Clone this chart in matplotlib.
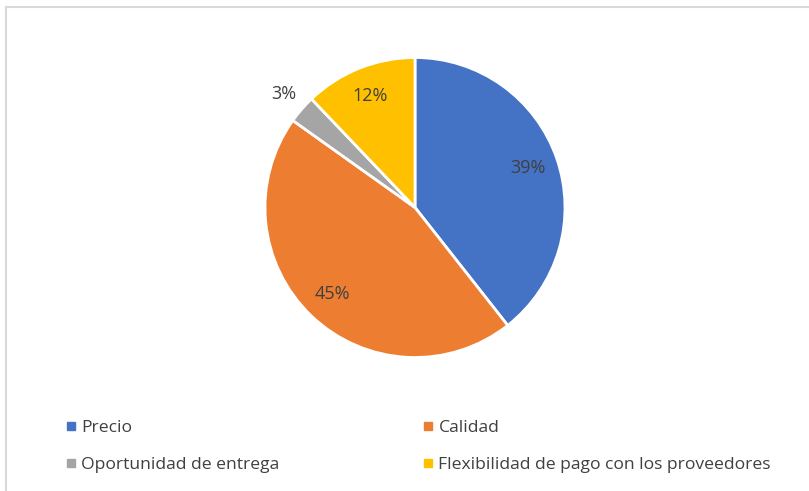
import matplotlib
matplotlib.use("Agg")
import matplotlib.pyplot as plt
from matplotlib.lines import Line2D
import numpy as np

# Data
categories = ["Precio", "Calidad", "Oportunidad de entrega",
              "Flexibilidad de pago con los proveedores"]
counts = [13, 15, 1, 4]
colors = ["#4472C4", "#ED7D31", "#A5A5A5", "#FFC000"]

plt.rcParams['font.family'] = ['Open Sans', 'DejaVu Sans']

W, H = 809, 491
fig = plt.figure(figsize=(W / 100, H / 100), dpi=100)

# pie axes: centre (415, 207.5) px, radius 150 px
cx, cy, r = 415, 207.5, 150
ax = fig.add_axes([(cx - r) / W, (H - cy - r) / H, 2 * r / W, 2 * r / H])

wedges, texts, autotexts = ax.pie(
    counts, colors=colors, startangle=90, counterclock=False,
    autopct=lambda p: f"{p:.0f}%", pctdistance=0.8,
    wedgeprops=dict(edgecolor="white", linewidth=2),
    textprops=dict(color="#404040", fontsize=13))
ax.set_xlim(-1, 1)
ax.set_ylim(-1, 1)
ax.set_aspect("equal")

# small slice label sits outside the pie
for w, t in zip(wedges, autotexts):
    if (w.theta2 - w.theta1) < 20:
        mid = np.deg2rad((w.theta1 + w.theta2) / 2)
        t.set_position((1.16 * np.cos(mid), 1.16 * np.sin(mid)))

# legend (filled column-wise, so reorder)
order = [0, 2, 1, 3]
handles = [Line2D([], [], marker="s", linestyle="none", markersize=6,
                  markerfacecolor=colors[i], markeredgecolor=colors[i])
           for i in order]
labels = [categories[i] for i in order]
fig.legend(handles, labels, ncol=2, frameon=False,
           loc="upper left", bbox_to_anchor=(46 / W, 1 - 404 / H),
           fontsize=12.6, labelcolor="#404040", handletextpad=0.1,
           handlelength=1.0, columnspacing=8.0, labelspacing=1.2)

# chart area border (top and left only visible)
fig.add_artist(Line2D([6 / W, 1], [1 - 7 / H, 1 - 7 / H], color="#D9D9D9", lw=1.5))
fig.add_artist(Line2D([6 / W, 6 / W], [0, 1 - 7 / H], color="#D9D9D9", lw=1.5))

fig.savefig("out.png", dpi=100, facecolor="white")
